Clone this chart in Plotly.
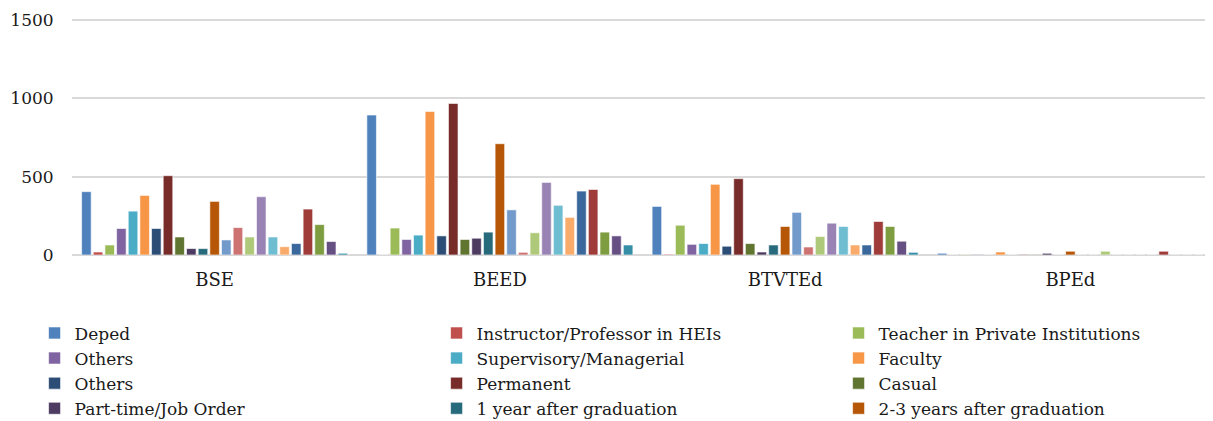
import plotly.graph_objects as go

categories = ["BSE", "BEED", "BTVTEd", "BPEd"]

series_names = [
    "Deped", "Instructor/Professor in HEIs", "Teacher in Private Institutions",
    "Others", "Supervisory/Managerial", "Faculty",
    "Others", "Permanent", "Casual",
    "Part-time/Job Order", "1 year after graduation", "2-3 years after graduation",
    "Series 13", "Series 14", "Series 15", "Series 16", "Series 17", "Series 18",
    "Series 19", "Series 20", "Series 21", "Series 22", "Series 23",
]

bse = [404, 19, 64, 169, 280, 380, 169, 506, 115, 41, 41, 342,
       96, 175, 115, 372, 115, 53, 73, 293, 194, 86, 11]
beed = [893, 0, 172, 99, 127, 916, 122, 967, 99, 107, 146, 710,
        288, 17, 142, 463, 317, 240, 408, 418, 146, 122, 64]
btvted = [310, 5, 190, 68, 73, 451, 56, 487, 73, 19, 64, 182,
          272, 51, 118, 203, 182, 64, 64, 214, 182, 88, 17]
bped = [11, 0, 4, 4, 0, 19, 0, 4, 4, 11, 0, 24,
        0, 0, 24, 0, 0, 0, 0, 24, 0, 0, 0]

colors = [
    "#4F81BD", "#C0504D", "#9BBB59", "#8064A2", "#4BACC6", "#F79646",
    "#2C4D75", "#772C2A", "#5F7530", "#4D3B62", "#276A7C", "#B65708",
    "#729ACA", "#CD7371", "#AFC97A", "#9983B5", "#6FBDD1", "#F9AB6B",
    "#3A679C", "#9F3B38", "#7E9D40", "#664F83", "#358EA6",
]

n_legend = 12
font_family = "DejaVu Serif"

fig = go.Figure()
for i, name in enumerate(series_names):
    fig.add_trace(go.Bar(
        x=categories,
        y=[bse[i], beed[i], btvted[i], bped[i]],
        name=name,
        marker=dict(color=colors[i], line=dict(color="rgba(255,255,255,0.6)", width=1)),
        showlegend=i < n_legend,
    ))

fig.update_layout(
    width=1213, height=421,
    margin=dict(l=64, r=8, t=10, b=174, autoexpand=False),
    paper_bgcolor="white", plot_bgcolor="white",
    barmode="group", bargap=0.06, bargroupgap=0.18,
    font=dict(family=font_family, size=17, color="#1a1a1a"),
    yaxis=dict(
        range=[0, 1512], tickvals=[0, 500, 1000, 1500],
        showgrid=True, gridcolor="#d9d9d9", gridwidth=2,
        zeroline=True, zerolinecolor="#d9d9d9", zerolinewidth=2,
        showline=False, ticks="outside", ticklen=14, tickcolor="rgba(0,0,0,0)",
        tickfont=dict(family=font_family, size=17, color="#1a1a1a"),
    ),
    xaxis=dict(
        showline=False, ticks="", ticklabelstandoff=12,
        tickfont=dict(family=font_family, size=18, color="#1a1a1a"),
    ),
    legend=dict(
        orientation="h", x=-0.0328, xanchor="left", y=-0.2549, yanchor="top",
        entrywidth=357, entrywidthmode="pixels",
        font=dict(family=font_family, size=17, color="#1a1a1a"),
        tracegroupgap=0, itemwidth=30, traceorder="normal",
    ),
)

fig.write_html("out.html")
